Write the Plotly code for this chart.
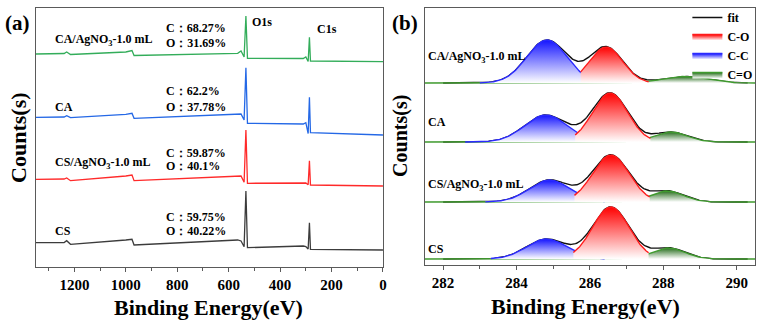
import numpy as np
import plotly.graph_objects as go

W, H = 764, 326
FONT = "Liberation Serif"

# ---------------- (a) XPS survey spectra ----------------
survey_energy = [1350, 1240, 1230, 1215, 1000, 985, 976, 968, 565, 552, 540, 533, 527,
                 310, 300, 291, 286, 282, 0]
survey_cs = [24.3, 24.5, 26.3, 22.7, 27.0, 27.5, 27.7, 22.0, 27.0, 26.0, 20.3, 76.0, 19.3,
             21.0, 20.5, 18.0, 44.3, 17.7, 17.0]
survey_cs_ag = [87.7, 88.0, 89.0, 86.3, 91.0, 91.5, 92.0, 86.3, 90.3, 91.0, 84.7, 137.0, 83.7,
                84.3, 84.0, 82.3, 106.3, 82.0, 81.0]
survey_ca = [149.7, 150.0, 151.3, 149.3, 152.7, 153.2, 153.7, 148.7, 153.5, 153.0, 147.0, 199.3, 143.7,
             143.0, 144.3, 133.5, 169.7, 134.3, 132.0]
survey_ca_ag = [213.0, 213.5, 215.0, 212.5, 215.0, 216.0, 216.5, 211.5, 213.7, 216.0, 210.0, 251.0, 208.7,
                208.5, 210.0, 205.5, 229.7, 206.0, 205.3]

samples = ["CS", "CS/AgNO<sub>3</sub>-1.0 mL", "CA", "CA/AgNO<sub>3</sub>-1.0 mL"]
c_percent = ["59.75%", "59.87%", "62.2%", "68.27%"]
o_percent = ["40.22%", "40.1%", "37.78%", "31.69%"]
survey_colors = ["#3c3c3c", "#ff2a2a", "#2468e6", "#33ad5a"]
survey_ticks = [1200, 1000, 800, 600, 400, 200, 0]

# ---------------- (b) C1s high-resolution fits ----------------
c1s_offset = [6, 63, 123, 182]
# C-O component
co_center = [286.57, 286.57, 286.55, 286.44]
co_height = [52, 47, 49, 36]
co_sigma = [0.50, 0.50, 0.48, 0.45]
co_start = [285.55, 285.58, 285.60, 285.75]
co_end = [287.60, 287.63, 287.65, 287.60]
# C-C component
cc_center = [284.82, 284.90, 284.80, 284.83]
cc_height = [20, 22, 27, 43]
cc_sigma = [0.55, 0.55, 0.58, 0.55]
cc_start = [283.30, 283.15, 282.60, 283.00]
cc_end = [286.40, 286.40, 286.30, 286.30]
# C=O component
coo_center = [288.14, 288.10, 288.20, 288.58]
coo_height = [11, 11, 10, 6.5]
coo_sigma = [0.45, 0.45, 0.45, 0.60]
c1s_ticks = [282, 284, 286, 288, 290]
c1s_range = [281.5, 290.5]


def px(x):
    return x / W


def py(y):
    return 1 - y / H


def gauss(x, c, h, s):
    return h * np.exp(-((x - c) ** 2) / (2 * s ** 2))


fig = go.Figure()

# ---- panel (a) traces ----
for vals, col in zip([survey_cs, survey_cs_ag, survey_ca, survey_ca_ag], survey_colors):
    fig.add_trace(go.Scatter(x=survey_energy, y=vals, mode="lines",
                             line=dict(color=col, width=1.3),
                             xaxis="x", yaxis="y", showlegend=False, hoverinfo="skip"))

# ---- panel (b) traces ----
RED, BLUE, GREEN = "#ff1a1a", "#2a2aff", "#3f9a2e"
RED_F, BLUE_F, GREEN_F = "rgb(255,0,0)", "rgb(20,20,255)", "rgb(40,110,30)"

for i in range(4):
    off = c1s_offset[i]
    xf = np.linspace(282.0, 290.3, 300)
    fit = (gauss(xf, co_center[i], co_height[i], co_sigma[i])
           + gauss(xf, cc_center[i], cc_height[i], cc_sigma[i])
           + gauss(xf, coo_center[i], coo_height[i], coo_sigma[i]))
    fig.add_trace(go.Scatter(x=xf, y=off + fit, mode="lines",
                             line=dict(color="#111111", width=1.4),
                             name="fit", legendrank=1, showlegend=(i == 0),
                             xaxis="x2", yaxis="y2", hoverinfo="skip"))

    comps = [
        ("C=O", coo_center[i], coo_height[i], coo_sigma[i], c1s_range[0], c1s_range[1], GREEN, GREEN_F, 4),
        ("C-C", cc_center[i], cc_height[i], cc_sigma[i], cc_start[i], cc_end[i], BLUE, BLUE_F, 3),
        ("C-O", co_center[i], co_height[i], co_sigma[i], co_start[i], co_end[i], RED, RED_F, 2),
    ]
    for name, c, h, s, a, b, lc, fc, rank in comps:
        xs = np.linspace(a, b, 160)
        ys = off + gauss(xs, c, h, s)
        fig.add_trace(go.Scatter(x=xs, y=np.full_like(xs, off), mode="lines",
                                 line=dict(width=0, color=lc), showlegend=False,
                                 xaxis="x2", yaxis="y2", hoverinfo="skip"))
        fig.add_trace(go.Scatter(x=xs, y=ys, mode="lines", fill="tonexty",
                                 line=dict(color=lc, width=1.4),
                                 fillgradient=dict(type="vertical", start=off, stop=off + h,
                                                   colorscale=[[0, "rgba(255,255,255,1)"], [1, fc]]),
                                 name=name, legendrank=rank, showlegend=(i == 0),
                                 xaxis="x2", yaxis="y2", hoverinfo="skip"))

# ---- annotations ----
ann = []


def text(x, y, s, size, xanchor="left", angle=0):
    ann.append(dict(x=px(x), y=py(y), xref="paper", yref="paper", text=s, showarrow=False,
                    xanchor=xanchor, yanchor="middle", textangle=angle,
                    font=dict(family=FONT, size=size, color="black", weight="bold")))


text(3, 23, "(a)", 21)
text(392, 23, "(b)", 21)
text(18, 138, "Counts(s)", 22, xanchor="center", angle=-90)
text(402, 136, "Counts(s)", 20, xanchor="center", angle=-90)
text(210, 307, "Binding Energy(eV)", 22, xanchor="center")
text(589, 306, "Binding Energy(eV)", 22, xanchor="center")

sample_y_a = [231, 163, 107, 40]
c_y = [217, 153, 91, 28]
o_y = [231, 166, 107, 43]
for i in range(4):
    text(53, sample_y_a[i], samples[i], 12)
    text(165, c_y[i], "C：" + c_percent[i], 12)
    text(165, o_y[i], "O：" + o_percent[i], 12)
text(251, 22, "O1s", 12)
text(317, 29, "C1s", 12)

sample_y_b = [249, 185, 122, 57]
for i in range(4):
    text(428, sample_y_b[i], samples[i], 12)

axis_common = dict(showgrid=False, zeroline=False, showline=True, mirror=True,
                   linecolor="#5a5a5a", linewidth=1)
tickfont = dict(family=FONT, size=15, color="black", weight="bold")

fig.update_layout(
    width=W, height=H,
    margin=dict(l=0, r=0, t=0, b=0),
    paper_bgcolor="white", plot_bgcolor="white",
    annotations=ann,
    xaxis=dict(domain=[px(36), px(385)], range=[1350, 0], anchor="y",
               tickvals=survey_ticks, ticks="outside", ticklen=4, tickcolor="#5a5a5a",
               minor=dict(dtick=100, tick0=0, ticks="outside", ticklen=3, tickcolor="#5a5a5a"),
               tickfont=tickfont, **axis_common),
    yaxis=dict(domain=[py(267), py(8)], range=[0, 259], anchor="x",
               showticklabels=False, ticks="", **axis_common),
    xaxis2=dict(domain=[px(427), px(759)], range=c1s_range, anchor="y2",
                tickvals=c1s_ticks, ticks="outside", ticklen=4, tickcolor="#5a5a5a",
                minor=dict(dtick=1, tick0=282, ticks="outside", ticklen=3, tickcolor="#5a5a5a"),
                tickfont=tickfont, **axis_common),
    yaxis2=dict(domain=[py(265), py(8)], range=[0, 257], anchor="x2",
                showticklabels=False, ticks="", **axis_common),
    legend=dict(x=px(691), y=py(3), xanchor="left", yanchor="top",
                bgcolor="rgba(0,0,0,0)", borderwidth=0, tracegroupgap=0,
                traceorder="normal",
                font=dict(family=FONT, size=12, color="black", weight="bold"),
                itemwidth=30),
)

fig.write_html("out.html", config={"displayModeBar": False},
               post_script="document.body.style.margin='0';")
